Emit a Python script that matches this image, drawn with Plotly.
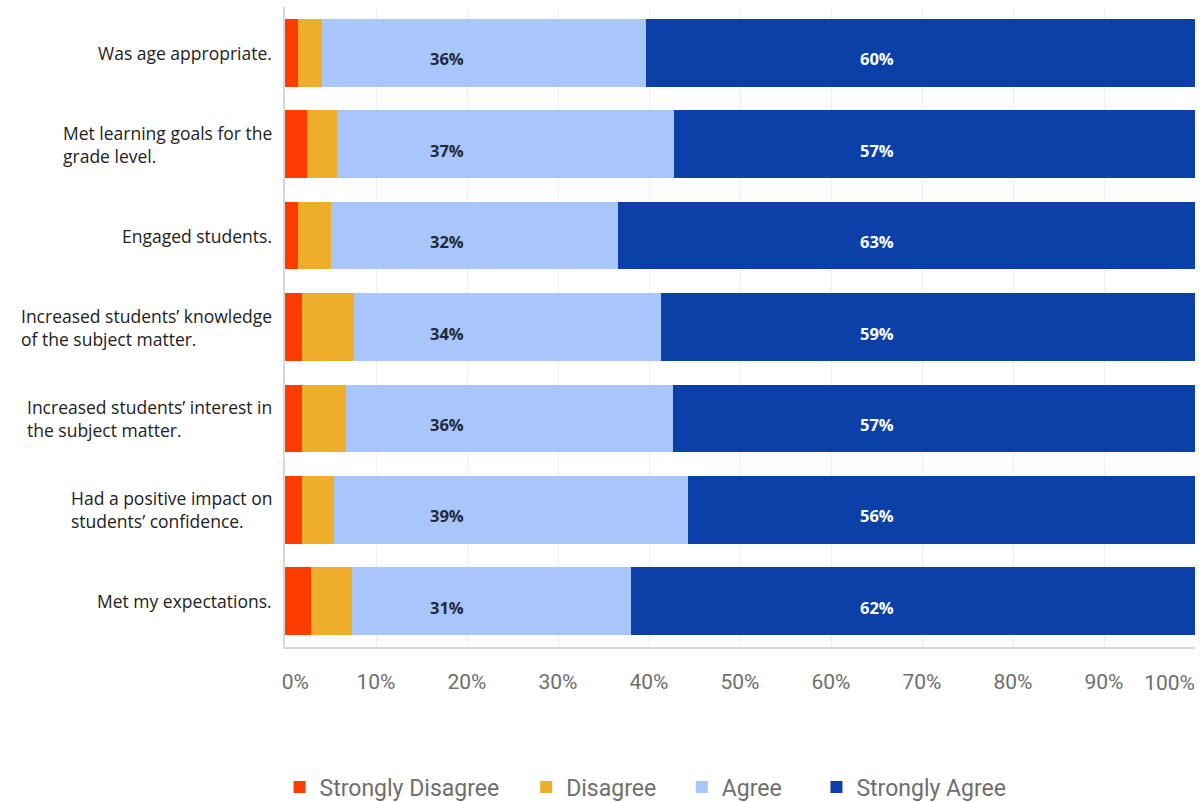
import plotly.graph_objects as go

categories = [
    "Was age appropriate.",
    "Met learning goals for the<br>grade level.",
    "Engaged students.",
    "Increased students\u2019 knowledge<br>of the subject matter.",
    "Increased students\u2019 interest in<br>the subject matter.",
    "Had a positive impact on<br>students\u2019 confidence.",
    "Met my expectations.",
]
strongly_disagree = [1.4, 2.4, 1.4, 1.9, 1.9, 1.9, 2.9]
disagree = [2.7, 3.3, 3.6, 5.7, 4.8, 3.5, 4.5]
agree = [35.6, 37.0, 31.6, 33.7, 35.9, 38.9, 30.6]
strongly_agree = [60.3, 57.3, 63.4, 58.7, 57.4, 55.7, 62.0]

series_names = ["Strongly Disagree", "Disagree", "Agree", "Strongly Agree"]
series_colors = ["#FF3C00", "#EFAD2C", "#A8C6F9", "#0A40A8"]
tick_values = [0, 10, 20, 30, 40, 50, 60, 70, 80, 90, 100]
tick_labels = ["0%", "10%", "20%", "30%", "40%", "50%", "60%", "70%", "80%", "90%", "100%"]

NB = "\u00a0"
main_ticks = list(tick_labels[:-1])
main_ticks[0] = NB * 4 + main_ticks[0]

legend_ids = ["legend", "legend2", "legend3", "legend4"]
legend_x = [-0.006, 0.265, 0.436, 0.584]

tick_font = dict(family="Roboto", size=21, color="#6E6E6E")

fig = go.Figure()
for name, vals, col, lid in zip(series_names,
                                [strongly_disagree, disagree, agree, strongly_agree],
                                series_colors, legend_ids):
    fig.add_trace(go.Bar(
        y=categories, x=vals, name=name, orientation="h",
        marker=dict(color=col, line=dict(width=0)),
        hoverinfo="x+name", legend=lid,
    ))

# empty helper trace so the overlaying axis (carrying the "100%" label) is drawn
fig.add_trace(go.Scatter(x=[], y=[], xaxis="x2", yaxis="y",
                         showlegend=False, hoverinfo="skip", mode="markers"))

annotations = []
for c in categories:
    annotations.append(dict(
        x=0, xref="paper", y=c, yref="y", xanchor="right", yanchor="middle",
        xshift=-11, align="left", showarrow=False, text=c,
        font=dict(family="Open Sans", size=17.5, color="#222222"),
    ))
for c, a, s in zip(categories, agree, strongly_agree):
    annotations.append(dict(
        x=17.8, xref="x", y=c, yref="y", showarrow=False, yshift=-6,
        text=f"<b>{round(a)}%</b>",
        font=dict(family="Open Sans", size=16.5, color="#1F2A3C"),
    ))
    annotations.append(dict(
        x=65.0, xref="x", y=c, yref="y", showarrow=False, yshift=-6,
        text=f"<b>{round(s)}%</b>",
        font=dict(family="Open Sans", size=16.5, color="#FFFFFF"),
    ))

layout_legends = {}
for lid, lx in zip(legend_ids, legend_x):
    layout_legends[lid] = dict(
        orientation="h", x=lx, xanchor="left", y=-0.2188, yanchor="middle",
        font=dict(family="Roboto", size=23, color="#6E6E6E"),
        bgcolor="rgba(0,0,0,0)",
    )

fig.update_layout(
    width=1200, height=802,
    margin=dict(l=285, r=5, t=7, b=155, pad=0, autoexpand=False),
    barmode="stack",
    bargap=0.26,
    plot_bgcolor="white",
    paper_bgcolor="white",
    annotations=annotations,
    xaxis=dict(
        range=[0, 100], tickvals=tick_values[:-1], ticktext=main_ticks,
        showgrid=True, gridcolor="#EEEEEE", gridwidth=1,
        showline=True, linecolor="#D8D8D8", linewidth=2,
        zeroline=False, ticks="", ticklabelstandoff=15,
        automargin=False, tickfont=tick_font, fixedrange=True,
    ),
    xaxis2=dict(
        overlaying="x", anchor="y", side="bottom",
        range=[0, 100], tickvals=tick_values[-1:], ticktext=tick_labels[-1:],
        ticklabelposition="outside left",
        showgrid=False, showline=False, zeroline=False, ticks="",
        ticklabelstandoff=21, automargin=False, tickfont=tick_font,
        fixedrange=True,
    ),
    yaxis=dict(
        autorange="reversed", showticklabels=False, automargin=False,
        showline=True, linecolor="#D8D8D8", linewidth=2,
        showgrid=False, ticks="", fixedrange=True,
    ),
    showlegend=True,
    **layout_legends,
)

fig.write_html("out.html")
